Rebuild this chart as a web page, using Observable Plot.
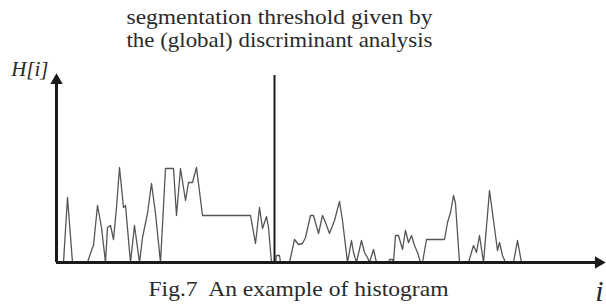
<!DOCTYPE html>
<html>
<head>
<meta charset="utf-8">
<script src="https://cdn.jsdelivr.net/npm/d3@7"></script>
<script src="https://cdn.jsdelivr.net/npm/@observablehq/plot@0.6"></script>
<style>
  html, body { margin: 0; padding: 0; background: #fff; }
  #chart svg { display: block; }
  #chart svg text { font-family: 'Liberation Serif', 'Times New Roman', serif; }
</style>
</head>
<body>
<div id="chart"></div>
<script>
// Bin index i (horizontal position along the histogram) and histogram value H[i]
const binIndex = [0, 7, 11, 16, 31, 36, 37, 41, 45, 49, 51, 54, 57, 60, 63, 67, 69, 74, 78, 83,
  86, 91, 95, 99, 104, 109, 116, 117, 120, 124, 129, 132, 136, 140, 146, 194, 199, 203, 206, 210,
  212, 215, 219, 220, 223, 224, 233, 238, 242, 246, 249, 254, 257, 262, 266, 269, 273, 278, 283, 286,
  291, 295, 297, 300, 305, 308, 311, 313, 317, 320, 332, 333, 336, 337, 339, 342, 346, 349, 352, 355,
  358, 361, 364, 366, 370, 388, 391, 394, 397, 399, 403, 412, 417, 420, 423, 427, 433, 437, 441, 443,
  446, 449, 457, 461, 465];
const counts = [0, 0, 65, 0, 0, 15, 17, 57, 35, 0, 35, 37, 23, 55, 95, 55, 57, 0, 37, 0,
  25, 49, 79, 49, 0, 94, 94, 94, 47, 94, 62, 80, 80, 95, 47, 47, 19, 55, 34, 46,
  35, 0, 0, 7, 7, 0, 0, 23, 18, 19, 25, 47, 47, 29, 47, 40, 29, 42, 61, 42,
  0, 22, 10, 0, 22, 10, 5, 0, 13, 0, 0, 3, 3, 0, 27, 27, 13, 32, 20, 27,
  17, 10, 0, 0, 23, 23, 40, 50, 67, 59, 0, 0, 17, 10, 27, 0, 72, 42, 12, 20,
  7, 0, 0, 22, 0];

const threshold = [218];
const xDomain = [0, 550];
const yDomain = [0, 189];
const titleLines = ["segmentation threshold given by", "the (global) discriminant analysis"];
const captionText = ["Fig.7  An example of histogram"];
const yLabel = ["H[i]"];
const xLabel = ["i"];

const hist = binIndex.map((i, k) => ({i, h: counts[k]}));
const serif = "'Liberation Serif', 'Times New Roman', serif";
const ink = "#1a1a1a";
const textInk = "#2a2a2a";

const chart = Plot.plot({
  width: 606,
  height: 305,
  marginLeft: 56,
  marginRight: 0,
  marginTop: 73,
  marginBottom: 43,
  x: {domain: xDomain, axis: null},
  y: {domain: yDomain, axis: null},
  style: {background: "#fff", fontFamily: serif},
  marks: [
    // histogram curve
    Plot.line(hist, {x: "i", y: "h", stroke: "#555", strokeWidth: 1.3}),
    // threshold line
    Plot.ruleX(threshold, {y1: yDomain[0], y2: yDomain[1] - 2, stroke: ink, strokeWidth: 2}),
    // axes with arrowheads
    Plot.ruleY([yDomain[0]], {x1: xDomain[0], x2: xDomain[1] - 8, stroke: ink, strokeWidth: 3}),
    Plot.ruleX([xDomain[0]], {y1: yDomain[0], y2: yDomain[1] - 8, stroke: ink, strokeWidth: 3}),
    Plot.dot([xDomain[0]], {x: d => d, y: () => yDomain[1] - 7, symbol: "triangle", r: 4.6, fill: ink, stroke: null}),
    Plot.dot([yDomain[0]], {x: () => xDomain[1] - 8, y: d => d, symbol: "triangle", rotate: 90, r: 4.6, fill: ink, stroke: null}),
    // title above threshold line
    Plot.text([titleLines[0]], {x: () => threshold[0], frameAnchor: "top", lineAnchor: "bottom", dx: 5, dy: -50, fontSize: 21.5, fontFamily: serif, fill: textInk}),
    Plot.text([titleLines[1]], {x: () => threshold[0], frameAnchor: "top", lineAnchor: "bottom", dx: 5, dy: -27, fontSize: 21.5, fontFamily: serif, fill: textInk}),
    // y label
    Plot.text(yLabel, {x: () => xDomain[0], frameAnchor: "top", lineAnchor: "bottom", textAnchor: "end", dx: -8, dy: 2, fontSize: 21, fontStyle: "italic", fontFamily: serif, fill: textInk}),
    // x label
    Plot.text(xLabel, {frameAnchor: "bottom-right", lineAnchor: "bottom", textAnchor: "end", dx: -3, dy: 38, fontSize: 30, fontStyle: "italic", fontFamily: serif, fill: textInk}),
    // caption
    Plot.text(captionText, {frameAnchor: "bottom", lineAnchor: "bottom", dx: -33, dy: 33, fontSize: 22, fontFamily: serif, fill: textInk})
  ]
});
document.getElementById("chart").appendChild(chart);

// stretch the scanned-looking texts to the widths seen in the figure
const widths = new Map([[titleLines[0], 306], [titleLines[1], 306], [captionText[0], 300]]);
chart.querySelectorAll("text").forEach(t => {
  const w = widths.get(t.textContent);
  if (w) { t.setAttribute("textLength", w); t.setAttribute("lengthAdjust", "spacingAndGlyphs"); }
});
</script>
</body>
</html>
